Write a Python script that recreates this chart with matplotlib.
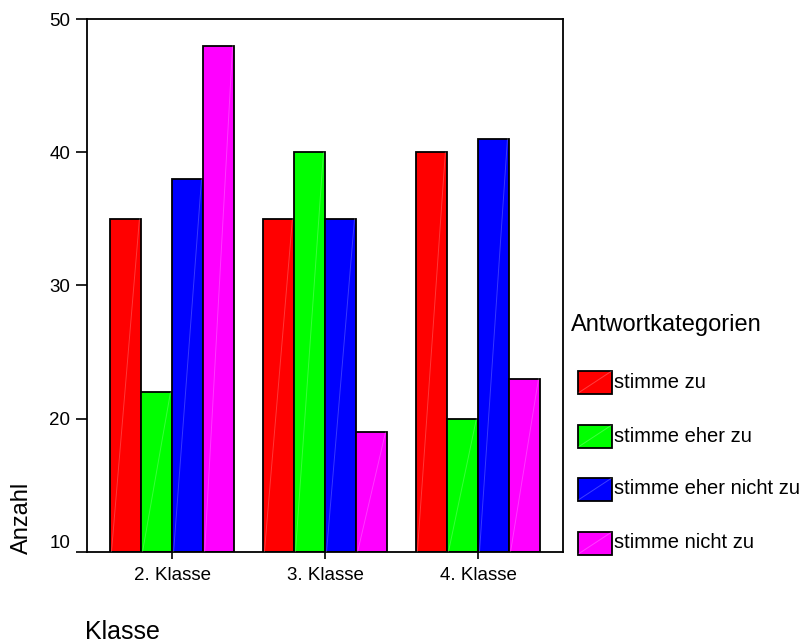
import matplotlib
matplotlib.use("Agg")
import matplotlib.pyplot as plt
from matplotlib.patches import Rectangle
from matplotlib.lines import Line2D
import numpy as np

plt.rcParams['font.family'] = ['Liberation Sans', 'DejaVu Sans']

classes = ["2. Klasse", "3. Klasse", "4. Klasse"]
categories = ["stimme zu", "stimme eher zu", "stimme eher nicht zu", "stimme nicht zu"]
colors = ["#FF0000", "#00FF00", "#0000FF", "#FF00FF"]
counts = {
    "stimme zu":            [35, 35, 40],
    "stimme eher zu":       [22, 40, 20],
    "stimme eher nicht zu": [38, 35, 41],
    "stimme nicht zu":      [48, 19, 23],
}
y_ticks = [10, 20, 30, 40, 50]
y_min, y_max = 10, 50

W, H = 811, 643
fig = plt.figure(figsize=(W / 100, H / 100), dpi=100)
ax = fig.add_axes([87 / W, 1 - 552 / H, (563 - 87) / W, (552 - 19) / H])

x = np.arange(len(classes))
width = 0.203
offsets = (np.arange(len(categories)) - 1.5) * width

for cat, col, off in zip(categories, colors, offsets):
    vals = np.array(counts[cat], dtype=float)
    bars = ax.bar(x + off, vals - y_min, width, bottom=y_min, color=col,
                  edgecolor="black", linewidth=1.3, zorder=2)
    for b in bars:
        x0, y0 = b.get_x(), b.get_y()
        ax.plot([x0 + 0.01, x0 + b.get_width() - 0.01], [y0, y0 + b.get_height()],
                color="white", alpha=0.22, lw=0.7, zorder=3)

ax.set_xlim(-0.556, 2.556)
ax.set_ylim(y_min, y_max)
ax.set_xticks(x)
ax.set_xticklabels(classes, fontsize=13.5)
ax.set_yticks(y_ticks)
ax.set_yticklabels([str(t) for t in y_ticks], fontsize=13.5)
lbl = ax.get_yticklabels()
lbl[0].set_va("bottom")
ax.tick_params(axis="y", direction="out", length=8, width=1.2, pad=4)
ax.tick_params(axis="x", direction="out", length=5, width=1.2, pad=6)
for s in ax.spines.values():
    s.set_linewidth(1.3)

fig.text(22 / W, 1 - 554 / H, "Anzahl", rotation=90, ha="center", va="bottom", fontsize=17)
fig.text(85 / W, 1 - 632 / H, "Klasse", ha="left", va="center", fontsize=18)

# legend
fig.text(571 / W, 1 - 325 / H, "Antwortkategorien", ha="left", va="center", fontsize=17)
row_y = [382, 436, 489, 543]
px0, pw, ph = 578, 34, 23
for cat, col, ry in zip(categories, colors, row_y):
    fig.patches.append(Rectangle((px0 / W, 1 - (ry + ph / 2) / H), pw / W, ph / H,
                                 facecolor=col, edgecolor="black", linewidth=1.3,
                                 transform=fig.transFigure, figure=fig))
    fig.lines.append(Line2D([(px0 + 1) / W, (px0 + pw - 1) / W],
                            [1 - (ry + ph / 2 - 1) / H, 1 - (ry - ph / 2 + 1) / H],
                            color="white", alpha=0.25, lw=0.7,
                            transform=fig.transFigure, figure=fig))
    fig.text(614 / W, 1 - ry / H, cat, ha="left", va="center", fontsize=14.5)

fig.savefig("out.png", dpi=100)
